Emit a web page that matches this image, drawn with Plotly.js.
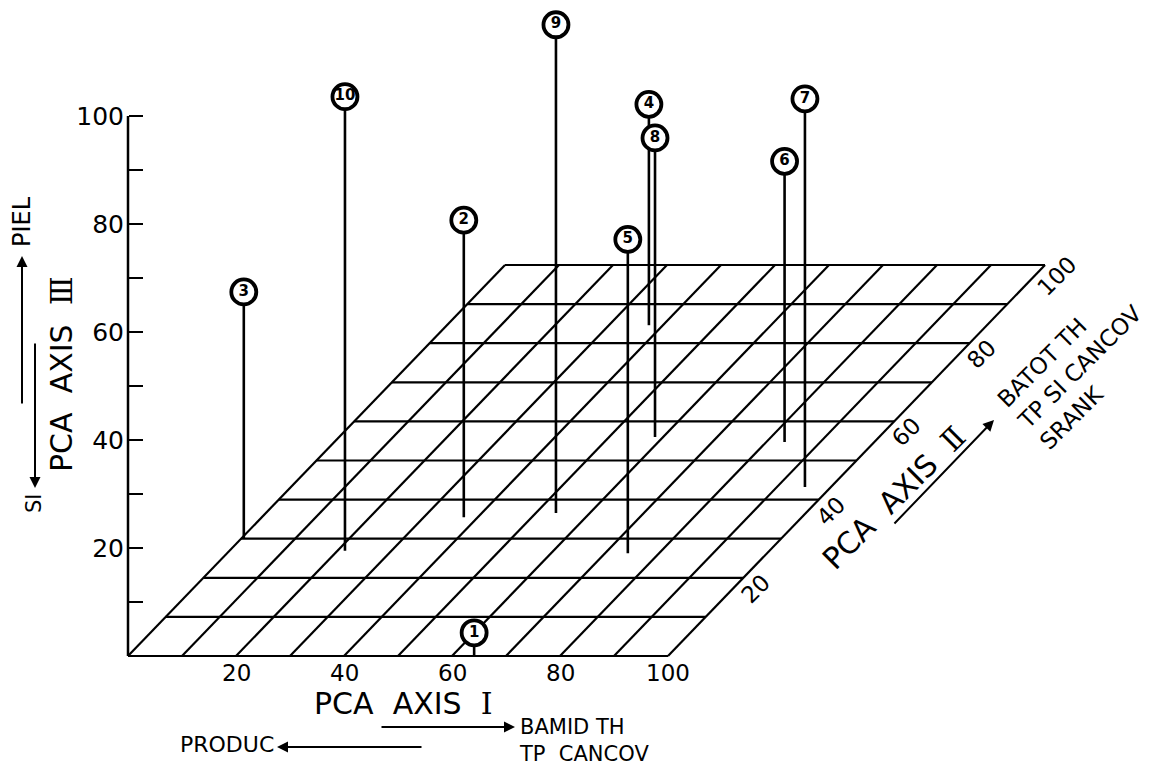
<!DOCTYPE html>
<html>
<head>
<meta charset="utf-8">
<script src="https://cdn.plot.ly/plotly-3.0.1.min.js"></script>
<style>html,body{margin:0;padding:0;background:#fff;}#chart{width:1153px;height:766px;}</style>
</head>
<body>
<div id="chart"></div>
<script>
// ---- data ----
const pointLabels = ['1','2','3','4','5','6','7','8','9','10'];
const axisI   = [64.1, 37.4, 0.5, 37.4, 74.2, 83.4, 95.2, 58.5, 53.7, 21.4];
const axisII  = [0,    35.5, 30,  84.6, 26.3, 54.7, 43.2, 56.0, 36.6, 26.9];
const axisIII = [4.3,  55.0, 45.7, 40.9, 58.1, 52.0, 71.9, 55.4, 90.4, 84.1];

const gridI   = [0,10,20,30,40,50,60,70,80,90,100];
const gridII  = [0,10,20,30,40,50,60,70,80,90,100];
const tickI   = [20,40,60,80,100];
const tickII  = [20,40,60,80,100];
const tickIII = [10,20,30,40,50,60,70,80,90,100];
const tickIIILabels = ['','20','','40','','60','','80','','100'];

// ---- oblique projection of (I, II, III) onto the 2-D plot ----
const W = 1153, H = 766, UNIT = 5.4, OX = 128, OY = 656;
const KX = 3.77 / UNIT, KY = 3.91 / UNIT;
function proj(a, b, c) { return [a + KX * b, c + KY * b]; }
const FONT = 'DejaVu Sans';
const ROMAN = n => '<span style="font-family:DejaVu Serif">' + n + '</span>';

const traces = [];
let gx = [], gy = [];
gridII.forEach(b => {
  const p0 = proj(0, b, 0), p1 = proj(100, b, 0);
  gx.push(p0[0], p1[0], null); gy.push(p0[1], p1[1], null);
});
gridI.forEach(a => {
  const p0 = proj(a, 0, 0), p1 = proj(a, 100, 0);
  gx.push(p0[0], p1[0], null); gy.push(p0[1], p1[1], null);
});
traces.push({type:'scatter', mode:'lines', x:gx, y:gy, line:{color:'#000', width:2.2}, hoverinfo:'skip'});
const a0 = proj(0,0,0), a1 = proj(0,0,100);
traces.push({type:'scatter', mode:'lines', x:[a0[0],a1[0]], y:[a0[1],a1[1]], line:{color:'#000', width:2.5}, hoverinfo:'skip'});
let sx = [], sy = [];
pointLabels.forEach((n, i) => {
  const b = proj(axisI[i], axisII[i], 0), t = proj(axisI[i], axisII[i], axisIII[i]);
  sx.push(b[0], t[0], null); sy.push(b[1], t[1], null);
});
traces.push({type:'scatter', mode:'lines', x:sx, y:sy, line:{color:'#000', width:2.6}, hoverinfo:'skip'});
const mx = [], my = [];
pointLabels.forEach((n, i) => {
  const t = proj(axisI[i], axisII[i], axisIII[i]);
  mx.push(t[0]); my.push(t[1]);
});
traces.push({type:'scatter', mode:'markers+text', x:mx, y:my, text:pointLabels,
  textposition:'middle center', cliponaxis:false,
  textfont:{family:FONT, size:15, color:'#000', weight:'bold'},
  marker:{symbol:'circle', size:25, color:'#fff', line:{color:'#000', width:3.8}}, hoverinfo:'skip'});

// ---- annotations ----
const ann = [];
const px = v => v / W, py = v => 1 - v / H;
tickI.forEach(v => {
  const p = proj(v, 0, 0);
  ann.push({x:p[0], y:p[1], xref:'x', yref:'y', text:String(v), showarrow:false,
    xanchor:'center', yanchor:'middle', yshift:-17, font:{family:FONT, size:23, color:'#000'}});
});
tickII.forEach(v => {
  const p = proj(100, v, 0);
  ann.push({x:p[0], y:p[1], xref:'x', yref:'y', text:String(v), showarrow:false, textangle:-45,
    xanchor:'center', yanchor:'middle', xshift:12, yshift:-11, font:{family:FONT, size:23, color:'#000'}});
});
function txt(t, x, y, size, angle, extra) {
  ann.push(Object.assign({x:px(x), y:py(y), xref:'paper', yref:'paper', text:t, showarrow:false,
    textangle:angle || 0, xanchor:'center', yanchor:'middle', font:{family:FONT, size:size, color:'#000'}}, extra || {}));
}
function arrow(hx, hy, tx, ty) {
  ann.push({x:px(hx), y:py(hy), xref:'paper', yref:'paper', text:'', showarrow:true,
    ax:tx - hx, ay:ty - hy, arrowhead:2, arrowsize:1.1, arrowwidth:2, arrowcolor:'#000'});
}
const NB = '\u00a0';
// axis I
txt('PCA' + NB + NB + 'AXIS' + NB + NB + ROMAN('\u2160'), 403, 703, 30);
arrow(515, 727, 380, 727);
txt('BAMID TH<br>TP' + NB + NB + 'CANCOV', 517, 740, 21, 0, {xanchor:'left', align:'left'});
arrow(277, 747, 423, 747);
txt('PRODUC', 276, 744, 22, 0, {xanchor:'right'});
// axis II
txt('PCA' + NB + NB + 'AXIS' + NB + NB + ROMAN('\u2161'), 894, 497, 30, -45);
arrow(994, 420, 893, 525);
txt('BATOT TH<br>TP SI CANCOV<br>SRANK', 1080, 367, 23, -45, {align:'left'});
// axis III
txt('PCA' + NB + NB + 'AXIS' + NB + NB + ROMAN('\u2162'), 61, 374, 30, -90);
txt('PIEL', 22, 222, 24, -90);
arrow(22, 256, 22, 405);
txt('SI', 34, 503, 21, -90);
arrow(35, 488, 35, 342);

const layout = {
  width:W, height:H, margin:{l:0, r:0, t:0, b:0},
  paper_bgcolor:'#fff', plot_bgcolor:'#fff', showlegend:false,
  xaxis:{range:[-OX/UNIT, (W-OX)/UNIT], visible:false, fixedrange:true},
  yaxis:{range:[-(H-OY)/UNIT, OY/UNIT], anchor:'free', position:OX/W, side:'left',
    showline:false, zeroline:false, showgrid:false, ticks:'inside', ticklen:14, tickwidth:2.5, tickcolor:'#000',
    tickmode:'array', tickvals:tickIII, ticktext:tickIIILabels, ticklabelstandoff:4,
    tickfont:{family:FONT, size:25, color:'#000'}, fixedrange:true},
  annotations:ann
};
Plotly.newPlot('chart', traces, layout, {staticPlot:true, displayModeBar:false});
</script>
</body>
</html>
